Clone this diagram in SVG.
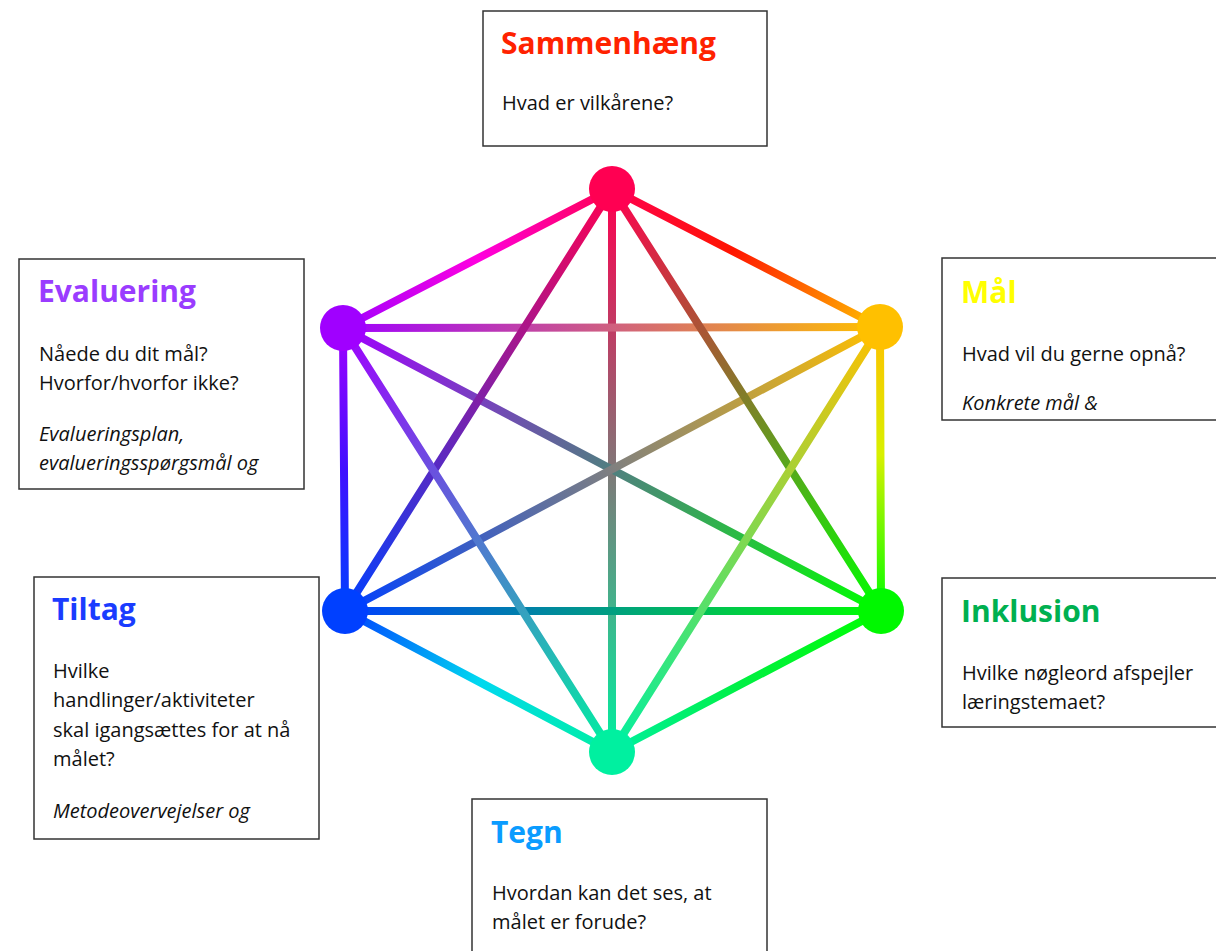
<svg xmlns="http://www.w3.org/2000/svg" width="1216" height="951" viewBox="0 0 1216 951">
<style>
.box{fill:#fff;stroke:#333;stroke-width:1.5}
.t{font-family:"Open Sans","Liberation Sans",sans-serif;font-weight:bold;font-size:30px}
.b{font-family:"Open Sans","Liberation Sans",sans-serif;font-size:20px;fill:#111}
.i{font-style:italic}
.e{stroke-width:8;stroke-linecap:round;fill:none}
</style>
<defs>
<linearGradient id="gTUR" gradientUnits="userSpaceOnUse" x1="612" y1="189" x2="880" y2="327"><stop offset="0" stop-color="#ff0050"/><stop offset="0.45" stop-color="#ff1500"/><stop offset="1" stop-color="#ffc000"/></linearGradient>
<linearGradient id="gURLR" gradientUnits="userSpaceOnUse" x1="880" y1="327" x2="881" y2="611"><stop offset="0" stop-color="#ffc000"/><stop offset="0.45" stop-color="#d8f000"/><stop offset="1" stop-color="#00ff00"/></linearGradient>
<linearGradient id="gLRB" gradientUnits="userSpaceOnUse" x1="881" y1="611" x2="612" y2="752"><stop offset="0" stop-color="#00ff00"/><stop offset="0.5" stop-color="#00f040"/><stop offset="1" stop-color="#00f0a0"/></linearGradient>
<linearGradient id="gBLL" gradientUnits="userSpaceOnUse" x1="612" y1="752" x2="345" y2="611"><stop offset="0" stop-color="#00f0a0"/><stop offset="0.5" stop-color="#00d8f0"/><stop offset="1" stop-color="#0040ff"/></linearGradient>
<linearGradient id="gLLUL" gradientUnits="userSpaceOnUse" x1="345" y1="611" x2="343" y2="328"><stop offset="0" stop-color="#0040ff"/><stop offset="0.5" stop-color="#4010ff"/><stop offset="1" stop-color="#a000ff"/></linearGradient>
<linearGradient id="gULT" gradientUnits="userSpaceOnUse" x1="343" y1="328" x2="612" y2="189"><stop offset="0" stop-color="#a000ff"/><stop offset="0.5" stop-color="#ff00e0"/><stop offset="1" stop-color="#ff0050"/></linearGradient>
<linearGradient id="gTB" gradientUnits="userSpaceOnUse" x1="612" y1="189" x2="612" y2="752"><stop offset="0" stop-color="#ff0050"/><stop offset="1" stop-color="#00f0a0"/></linearGradient>
<linearGradient id="gULLR" gradientUnits="userSpaceOnUse" x1="343" y1="328" x2="881" y2="611"><stop offset="0" stop-color="#a000ff"/><stop offset="1" stop-color="#00ff00"/></linearGradient>
<linearGradient id="gURLL" gradientUnits="userSpaceOnUse" x1="880" y1="327" x2="345" y2="611"><stop offset="0" stop-color="#ffc000"/><stop offset="1" stop-color="#0040ff"/></linearGradient>
<linearGradient id="gULUR" gradientUnits="userSpaceOnUse" x1="343" y1="328" x2="880" y2="327"><stop offset="0" stop-color="#a000ff"/><stop offset="1" stop-color="#ffc000"/></linearGradient>
<linearGradient id="gLLLR" gradientUnits="userSpaceOnUse" x1="345" y1="611" x2="881" y2="611"><stop offset="0" stop-color="#0040ff"/><stop offset="1" stop-color="#00ff00"/></linearGradient>
<linearGradient id="gTLR" gradientUnits="userSpaceOnUse" x1="612" y1="189" x2="881" y2="611"><stop offset="0" stop-color="#ff0050"/><stop offset="1" stop-color="#00ff00"/></linearGradient>
<linearGradient id="gTLL" gradientUnits="userSpaceOnUse" x1="612" y1="189" x2="345" y2="611"><stop offset="0" stop-color="#ff0050"/><stop offset="1" stop-color="#0040ff"/></linearGradient>
<linearGradient id="gBUR" gradientUnits="userSpaceOnUse" x1="612" y1="752" x2="880" y2="327"><stop offset="0" stop-color="#00f0a0"/><stop offset="1" stop-color="#ffc000"/></linearGradient>
<linearGradient id="gBUL" gradientUnits="userSpaceOnUse" x1="612" y1="752" x2="343" y2="328"><stop offset="0" stop-color="#00f0a0"/><stop offset="1" stop-color="#a000ff"/></linearGradient>
</defs>
<g id="connectors">
<line class="e" x1="612" y1="189" x2="880" y2="327" stroke="url(#gTUR)"/>
<line class="e" x1="880" y1="327" x2="881" y2="611" stroke="url(#gURLR)"/>
<line class="e" x1="881" y1="611" x2="612" y2="752" stroke="url(#gLRB)"/>
<line class="e" x1="612" y1="752" x2="345" y2="611" stroke="url(#gBLL)"/>
<line class="e" x1="345" y1="611" x2="343" y2="328" stroke="url(#gLLUL)"/>
<line class="e" x1="343" y1="328" x2="612" y2="189" stroke="url(#gULT)"/>
<line class="e" x1="612" y1="189" x2="612" y2="752" stroke="url(#gTB)"/>
<line class="e" x1="343" y1="328" x2="881" y2="611" stroke="url(#gULLR)"/>
<line class="e" x1="880" y1="327" x2="345" y2="611" stroke="url(#gURLL)"/>
<line class="e" x1="343" y1="328" x2="880" y2="327" stroke="url(#gULUR)"/>
<line class="e" x1="345" y1="611" x2="881" y2="611" stroke="url(#gLLLR)"/>
<line class="e" x1="612" y1="189" x2="881" y2="611" stroke="url(#gTLR)"/>
<line class="e" x1="612" y1="189" x2="345" y2="611" stroke="url(#gTLL)"/>
<line class="e" x1="612" y1="752" x2="880" y2="327" stroke="url(#gBUR)"/>
<line class="e" x1="612" y1="752" x2="343" y2="328" stroke="url(#gBUL)"/>
</g>
<g id="dot-top"><circle cx="612" cy="189" r="23" fill="#ff0052"/></g>
<g id="dot-ur"><circle cx="880" cy="327" r="23" fill="#ffc000"/></g>
<g id="dot-lr"><circle cx="881" cy="611" r="23" fill="#00f800"/></g>
<g id="dot-b"><circle cx="612" cy="752" r="23" fill="#00f0a0"/></g>
<g id="dot-ll"><circle cx="345" cy="611" r="23" fill="#0040ff"/></g>
<g id="dot-ul"><circle cx="343" cy="328" r="23" fill="#a000ff"/></g>
<g id="node-sammenhaeng">
<rect class="box" x="483" y="11" width="284" height="135"/>
<text class="t" x="501" y="54" fill="#ff2200">Sammenhæng</text>
<text class="b" x="502" y="110">Hvad er vilkårene?</text>
</g>
<g id="node-evaluering">
<rect class="box" x="19" y="259" width="285" height="230"/>
<text class="t" x="38" y="302" fill="#9a3cff">Evaluering</text>
<text class="b" x="39" y="361">Nåede du dit mål?</text>
<text class="b" x="39" y="390">Hvorfor/hvorfor ikke?</text>
<text class="b i" x="39" y="441">Evalueringsplan,</text>
<text class="b i" x="39" y="470">evalueringsspørgsmål og</text>
</g>
<g id="node-maal">
<rect class="box" x="942" y="258" width="300" height="162"/>
<text class="t" x="961" y="303" fill="#ffff00">Mål</text>
<text class="b" x="962" y="361">Hvad vil du gerne opnå?</text>
<text class="b i" x="962" y="410">Konkrete mål &amp;</text>
</g>
<g id="node-tiltag">
<rect class="box" x="34" y="577" width="285" height="262"/>
<text class="t" x="52" y="620" fill="#1a3cff">Tiltag</text>
<text class="b" x="53" y="678">Hvilke</text>
<text class="b" x="53" y="707">handlinger/aktiviteter</text>
<text class="b" x="53" y="737">skal igangsættes for at nå</text>
<text class="b" x="53" y="766">målet?</text>
<text class="b i" x="53" y="818">Metodeovervejelser og</text>
</g>
<g id="node-inklusion">
<rect class="box" x="942" y="578" width="300" height="149"/>
<text class="t" x="961" y="622" fill="#00b050">Inklusion</text>
<text class="b" x="962" y="680">Hvilke nøgleord afspejler</text>
<text class="b" x="962" y="709">læringstemaet?</text>
</g>
<g id="node-tegn">
<rect class="box" x="472" y="799" width="295" height="200"/>
<text class="t" x="491" y="843" fill="#0a9cff">Tegn</text>
<text class="b" x="492" y="900">Hvordan kan det ses, at</text>
<text class="b" x="492" y="929">målet er forude?</text>
</g>
</svg>
